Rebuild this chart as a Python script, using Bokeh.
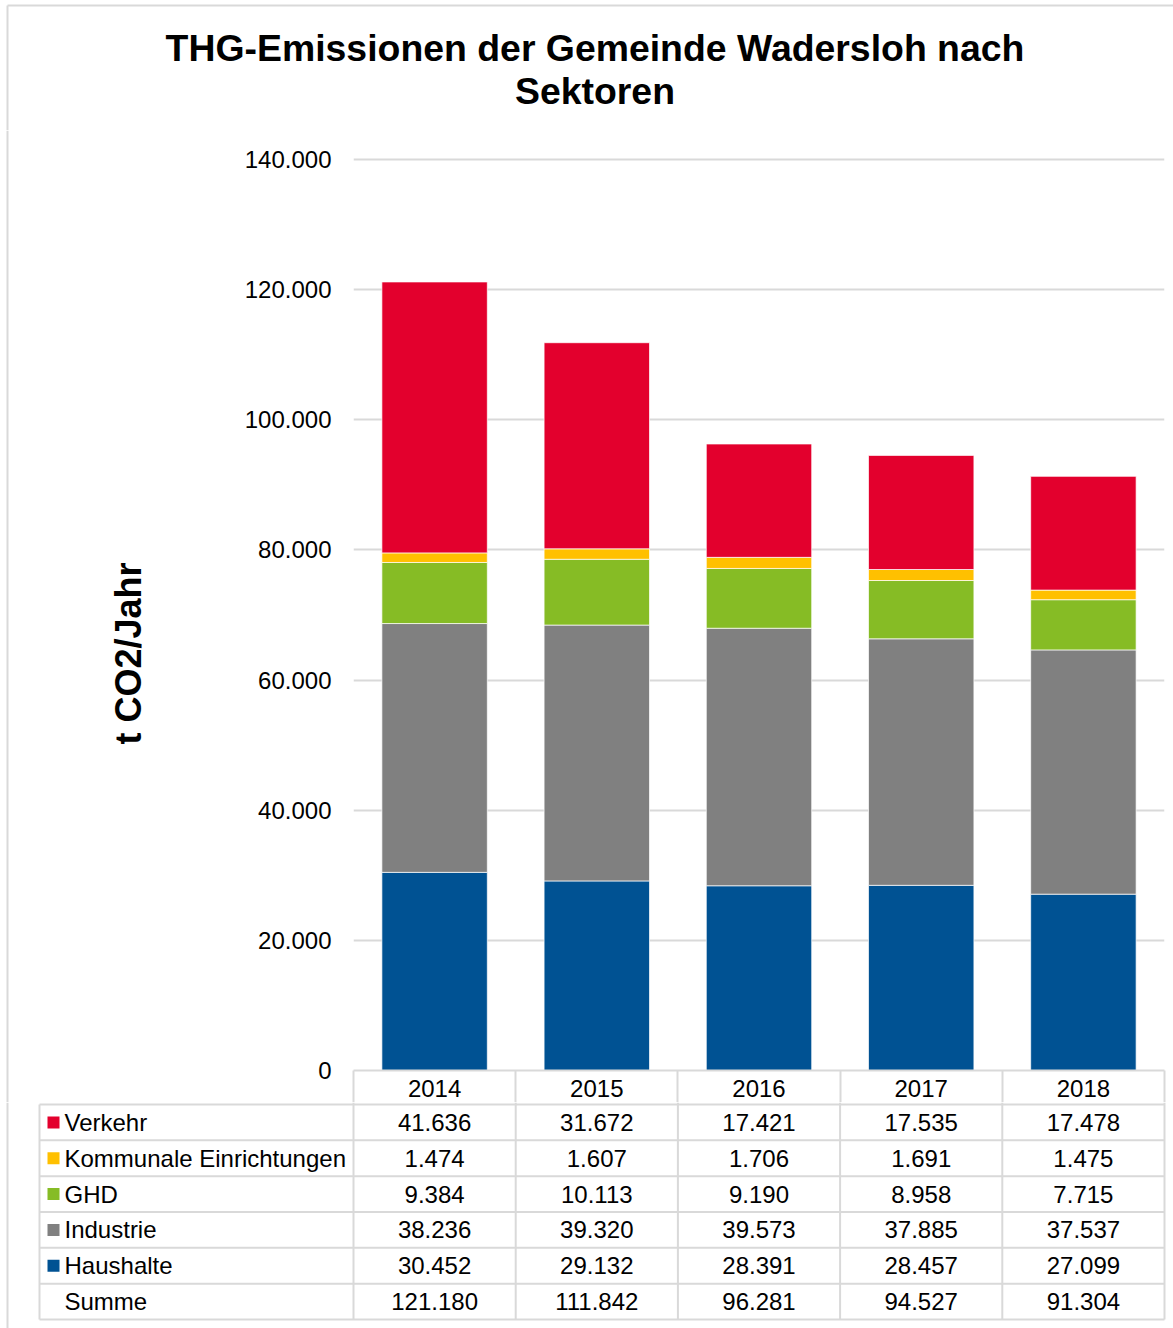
import math
from bokeh.plotting import figure
from bokeh.layouts import column, row
from bokeh.models import Range1d, FixedTicker, ColumnDataSource
from bokeh.core.properties import value
from bokeh.embed import file_html
from bokeh.resources import INLINE

# ---------------- data ----------------
years = ["2014", "2015", "2016", "2017", "2018"]
verkehr = [41636, 31672, 17421, 17535, 17478]
kommunale = [1474, 1607, 1706, 1691, 1475]
ghd = [9384, 10113, 9190, 8958, 7715]
industrie = [38236, 39320, 39573, 37885, 37537]
haushalte = [30452, 29132, 28391, 28457, 27099]
summe = [121180, 111842, 96281, 94527, 91304]

row_labels = ["Verkehr", "Kommunale Einrichtungen", "GHD", "Industrie", "Haushalte", "Summe"]
sector_colors = {"Verkehr": "#E3002D", "Kommunale Einrichtungen": "#FFC000",
                 "GHD": "#86BC25", "Industrie": "#808080", "Haushalte": "#005293"}
y_ticks = [0, 20000, 40000, 60000, 80000, 100000, 120000, 140000]
title_lines = ["THG-Emissionen der Gemeinde Wadersloh nach", "Sektoren"]
y_label = "t CO2/Jahr"

# ---------------- layout (page pixels) ----------------
FONT = "Liberation Sans"
GRID = "#d9d9d9"
TXT = "24px"
W, H = 1173, 1328
TITLE_H = 130
SPLIT = 1102               # page y where the table figure starts
CHART_H = SPLIT - TITLE_H
LEFT_W = 200               # width of the strip holding the y label
X0, UX = 353, 162.2        # page x of x=0, pixels per category
FRAME_TOP, FRAME_BOT = 159, 1070
YPU = y_ticks[-1] / (FRAME_BOT - FRAME_TOP)
HDR_BOT = 1104
ROW_H = (1319 - HDR_BOT) / len(row_labels)
TBL_LEFT = 39
BORDER_X, BORDER_Y = 7, 5


def de(n):
    return f"{n:,}".replace(",", ".")


def dx(px):
    return (px - X0) / UX


def bare(width, height, xr, yr):
    f = figure(width=width, height=height, x_range=xr, y_range=yr,
               output_backend="svg", toolbar_location=None,
               x_axis_location=None, y_axis_location=None, min_border=0,
               outline_line_color=None)
    f.grid.visible = False
    try:
        f.frame_align = False
    except Exception:
        pass
    return f


# ---------------- title strip ----------------
tf = bare(W, TITLE_H, Range1d(0, W), Range1d(TITLE_H, 0))
tf.segment(x0=[BORDER_X, BORDER_X], y0=[BORDER_Y, BORDER_Y], x1=[W, BORDER_X],
           y1=[BORDER_Y, TITLE_H], line_color=GRID, line_width=2)
tf.text(x=[594.5, 594.5], y=[47, 90], text=title_lines, text_align="center",
        text_baseline="middle", text_font=value(FONT), text_font_size="37.4px",
        text_font_style="bold", text_color="black")

# ---------------- y label strip ----------------
lf = bare(LEFT_W, CHART_H, Range1d(0, LEFT_W), Range1d(0, CHART_H))
lf.segment(x0=[BORDER_X], y0=[0], x1=[BORDER_X], y1=[CHART_H], line_color=GRID, line_width=2)
lf.text(x=[128], y=[TITLE_H + CHART_H - 653], text=[y_label], angle=math.pi / 2,
        text_align="center", text_baseline="middle", text_font=value(FONT),
        text_font_size="36px", text_font_style="bold", text_color="black")

# ---------------- chart ----------------
n_years = len(years)
xs = [i + 0.5 for i in range(n_years)]
stack_order = ["Haushalte", "Industrie", "GHD", "Kommunale Einrichtungen", "Verkehr"]
src = ColumnDataSource(dict(x=xs, **{
    "Haushalte": haushalte, "Industrie": industrie, "GHD": ghd,
    "Kommunale Einrichtungen": kommunale, "Verkehr": verkehr}))

p = figure(width=W - LEFT_W, height=CHART_H,
           x_range=Range1d(0, n_years), y_range=Range1d(0, y_ticks[-1] + 2 * YPU),
           output_backend="svg", toolbar_location=None, min_border=0,
           min_border_left=X0 - LEFT_W, min_border_right=W - 1164,
           min_border_top=FRAME_TOP - 2 - TITLE_H, min_border_bottom=SPLIT - FRAME_BOT,
           outline_line_color=None)
try:
    p.frame_align = False
except Exception:
    pass
p.vbar_stack(stack_order, x="x", width=0.65, source=src,
             fill_color=[sector_colors[s] for s in stack_order],
             line_color="white", line_width=1, line_alpha=0.7)

p.xgrid.visible = False
p.ygrid.ticker = FixedTicker(ticks=y_ticks)
p.ygrid.grid_line_color = GRID
p.ygrid.grid_line_width = 2
p.ygrid.level = "underlay"

ya = p.yaxis[0]
ya.ticker = FixedTicker(ticks=y_ticks)
ya.major_label_overrides = {t: de(t) for t in y_ticks}
ya.axis_line_color = None
ya.major_tick_line_color = None
ya.minor_tick_line_color = None
ya.major_tick_out = 0
ya.major_tick_in = 0
ya.major_label_standoff = 22
ya.major_label_text_font = FONT
ya.major_label_text_font_size = TXT
ya.major_label_text_color = "black"

xa = p.xaxis[0]
xa.ticker = FixedTicker(ticks=xs, minor_ticks=list(range(n_years + 1)))
xa.major_label_overrides = {x: y for x, y in zip(xs, years)}
xa.major_tick_out = 0
xa.major_tick_in = 0
xa.major_tick_line_color = None
xa.minor_tick_out = SPLIT - FRAME_BOT
xa.minor_tick_in = 0
xa.minor_tick_line_color = GRID
xa.minor_tick_line_width = 2
xa.axis_line_color = GRID
xa.axis_line_width = 2
xa.major_label_standoff = -(SPLIT - FRAME_BOT) + 9
xa.major_label_text_font = FONT
xa.major_label_text_font_size = TXT
xa.major_label_text_color = "black"

# ---------------- data table ----------------
TB_H = H - SPLIT
t = bare(W, TB_H, Range1d(dx(0), dx(W)), Range1d(H, SPLIT))
n_rows = len(row_labels)
hy = [HDR_BOT + k * ROW_H for k in range(n_rows + 1)]
t.segment(x0=[dx(TBL_LEFT)] * len(hy), x1=[n_years] * len(hy), y0=hy, y1=hy,
          line_color=GRID, line_width=2)
vx = [dx(TBL_LEFT)] + list(range(n_years + 1))
t.segment(x0=vx, x1=vx, y0=[HDR_BOT] + [SPLIT] * (n_years + 1), y1=[hy[-1]] * len(vx),
          line_color=GRID, line_width=2)
t.segment(x0=[dx(BORDER_X)], x1=[dx(BORDER_X)], y0=[SPLIT], y1=[H],
          line_color=GRID, line_width=2)

row_values = [verkehr, kommunale, ghd, industrie, haushalte, summe]
row_cy = [HDR_BOT + (k + 0.5) * ROW_H for k in range(n_rows)]
t.text(x=[dx(64)] * n_rows, y=row_cy, text=row_labels, text_align="left",
       text_baseline="middle", text_font=value(FONT), text_font_size=TXT,
       text_color="black")
leg = [lab for lab in row_labels if lab in sector_colors]
t.rect(x=[dx(53)] * len(leg), y=row_cy[:len(leg)], width=12, height=12,
       width_units="screen", height_units="screen",
       fill_color=[sector_colors[l] for l in leg], line_color=None)
cx, cy, ct = [], [], []
for c, vals in zip(row_cy, row_values):
    for x, v in zip(xs, vals):
        cx.append(x)
        cy.append(c)
        ct.append(de(v))
t.text(x=cx, y=cy, text=ct, text_align="center", text_baseline="middle",
       text_font=value(FONT), text_font_size=TXT, text_color="black")

layout = column(tf, row(lf, p, spacing=0), t, spacing=0)
open("out.html", "w").write(file_html(layout, INLINE))
